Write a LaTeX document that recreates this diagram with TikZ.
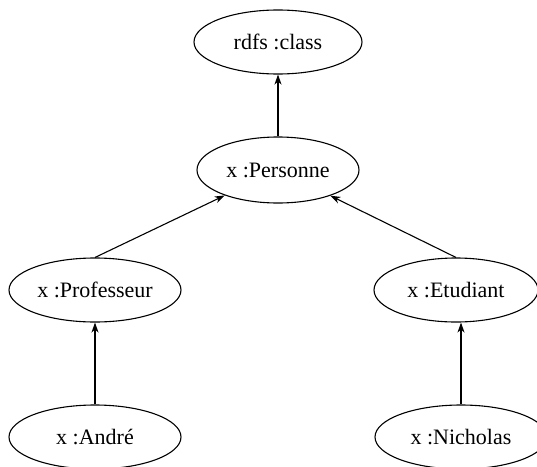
\documentclass[tikz,border=0pt]{standalone}
\usepackage{fontspec}
\setmainfont{Liberation Serif}
\usetikzlibrary{shapes.geometric,arrows.meta}
\begin{document}
\begin{tikzpicture}[x=1pt,y=-1pt,
  cls/.style={ellipse,draw,line width=1.1pt,inner sep=0pt,
    minimum width=170pt,minimum height=64pt,font=\fontsize{22}{25}\selectfont},
  isa/.style={line width=1.1pt,-{Stealth[length=10pt,width=7pt,inset=3pt]}}]
  \useasboundingbox (0,0) rectangle (537,466);
  \clip (0,0) rectangle (537,466);
  % class hierarchy
  \node[cls,minimum width=168pt] (rdfs) at (278,42) {rdfs :class};
  \node[cls,minimum width=162pt,minimum height=66pt] (pers) at (278,170) {x :Personne};
  \node[cls,minimum width=172pt] (prof) at (95,290) {x :Professeur};
  \node[cls,minimum width=164pt] (etud) at (456,290) {x :Etudiant};
  % instances
  \node[cls,minimum width=172pt] (andre) at (95,437) {x :André};
  \node[cls,minimum width=172pt] (nich) at (461,437) {x :Nicholas};
  % links
  \draw[isa] (pers.north) -- (rdfs.south);
  \draw[isa] (prof.north) -- (pers);
  \draw[isa] (etud.north) -- (pers);
  \draw[isa] (andre.north) -- (prof.south);
  \draw[isa] (nich.north) -- (nich.north |- etud.south);
\end{tikzpicture}
\end{document}
